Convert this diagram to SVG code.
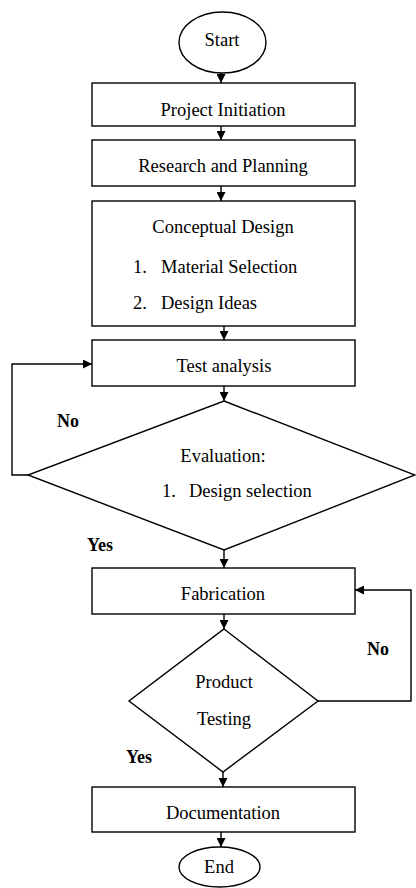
<svg xmlns="http://www.w3.org/2000/svg" width="416" height="888" viewBox="0 0 416 888">
<style>
.s{fill:#fff;stroke:#000;stroke-width:1.4}
.t{font-family:"Liberation Serif","Times New Roman",serif;font-size:18.5px;fill:#000}
.m{text-anchor:middle}
.b{font-family:"Liberation Serif","Times New Roman",serif;font-size:18px;font-weight:bold;fill:#000}
.c{fill:none;stroke:#000;stroke-width:1.4}
</style>
<defs>
<marker id="ah" markerUnits="userSpaceOnUse" markerWidth="9" markerHeight="9" refX="9" refY="4.5" orient="auto">
<path d="M0,0 L9,4.5 L0,9 z" fill="#000"/>
</marker>
</defs>
<rect width="416" height="888" fill="#fff"/>
<g id="connectors">
<line class="c" x1="221" y1="73" x2="221" y2="83" marker-end="url(#ah)"/>
<line class="c" x1="221" y1="126" x2="221" y2="140" marker-end="url(#ah)"/>
<line class="c" x1="221" y1="186" x2="221" y2="201" marker-end="url(#ah)"/>
<line class="c" x1="224" y1="326" x2="224" y2="340" marker-end="url(#ah)"/>
<line class="c" x1="224" y1="386" x2="224" y2="401" marker-end="url(#ah)"/>
<polyline class="c" points="28,475 12,475 12,364 92,364" marker-end="url(#ah)"/>
<line class="c" x1="224" y1="550" x2="224" y2="568" marker-end="url(#ah)"/>
<line class="c" x1="224" y1="614" x2="224" y2="629" marker-end="url(#ah)"/>
<polyline class="c" points="318,701 411,701 411,590 355,590" stroke="#333" stroke-width="1.8" marker-end="url(#ah)"/>
<line class="c" x1="223" y1="772" x2="223" y2="787" marker-end="url(#ah)"/>
<line class="c" x1="221" y1="832" x2="221" y2="847" marker-end="url(#ah)"/>
<text class="b" x="57" y="427">No</text>
<text class="b" x="87" y="551">Yes</text>
<text class="b" x="367" y="655">No</text>
<text class="b" x="126" y="763">Yes</text>
</g>
<g id="start">
<ellipse class="s" cx="222.5" cy="42.5" rx="43.5" ry="30.5"/>
<text class="t m" x="222" y="46">Start</text>
</g>
<g id="initiation">
<rect class="s" x="92" y="83" width="263" height="43"/>
<text class="t m" x="223" y="116">Project Initiation</text>
</g>
<g id="research">
<rect class="s" x="92" y="140" width="263" height="46"/>
<text class="t m" x="223" y="172">Research and Planning</text>
</g>
<g id="conceptual">
<rect class="s" x="92" y="201" width="263" height="125"/>
<text class="t m" x="223" y="233">Conceptual Design</text>
<text class="t" x="133" y="273">1.</text>
<text class="t" x="161" y="273">Material Selection</text>
<text class="t" x="133" y="309">2.</text>
<text class="t" x="161" y="309">Design Ideas</text>
</g>
<g id="test">
<rect class="s" x="92" y="340" width="263" height="46"/>
<text class="t m" x="224" y="372">Test analysis</text>
</g>
<g id="evaluation">
<polygon class="s" points="224,401 415,475 224,550 28,475"/>
<text class="t m" x="223" y="462">Evaluation:</text>
<text class="t" x="162" y="497">1.</text>
<text class="t" x="189" y="497">Design selection</text>
</g>
<g id="fabrication">
<rect class="s" x="92" y="568" width="263" height="46"/>
<text class="t m" x="223" y="600">Fabrication</text>
</g>
<g id="product">
<polygon class="s" points="224,629 318,701 223,772 129,701"/>
<text class="t m" x="224" y="688">Product</text>
<text class="t m" x="224" y="725">Testing</text>
</g>
<g id="documentation">
<rect class="s" x="92" y="787" width="263" height="45"/>
<text class="t m" x="223" y="819">Documentation</text>
</g>
<g id="end">
<ellipse class="s" cx="219.5" cy="867" rx="40.5" ry="20"/>
<text class="t m" x="219" y="873">End</text>
</g>
</svg>
